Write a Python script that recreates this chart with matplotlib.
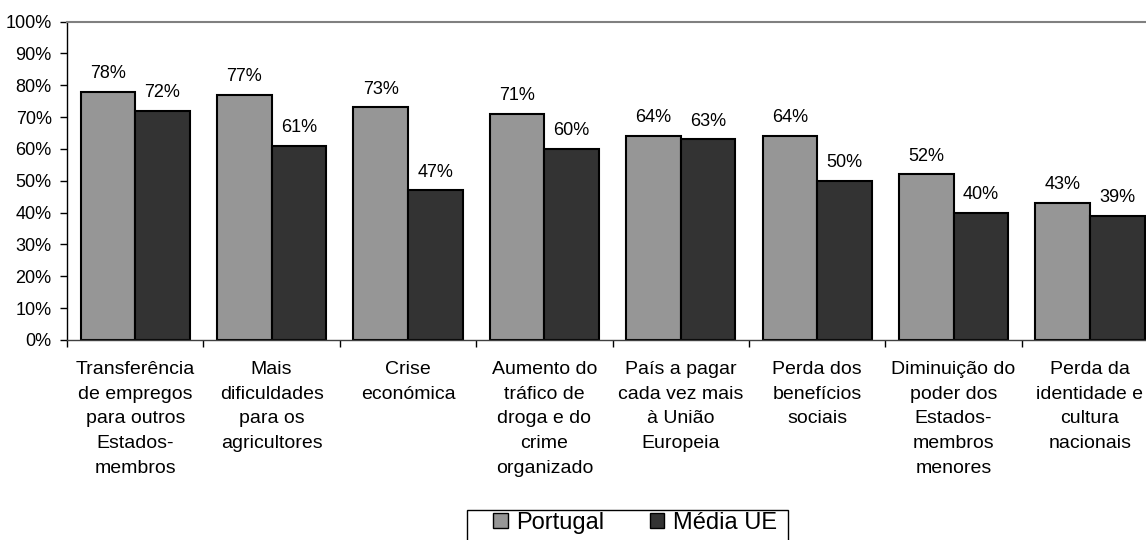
import numpy as np
import matplotlib
matplotlib.use('Agg')
import matplotlib.pyplot as plt
from matplotlib.patches import Patch, Rectangle

plt.rcParams['font.family'] = ['Liberation Sans', 'DejaVu Sans']

# --- dados ---
categorias = [
    "Transferência\nde empregos\npara outros\nEstados-\nmembros",
    "Mais\ndificuldades\npara os\nagricultores",
    "Crise\neconómica",
    "Aumento do\ntráfico de\ndroga e do\ncrime\norganizado",
    "País a pagar\ncada vez mais\nà União\nEuropeia",
    "Perda dos\nbenefícios\nsociais",
    "Diminuição do\npoder dos\nEstados-\nmembros\nmenores",
    "Perda da\nidentidade e\ncultura\nnacionais",
]
portugal = [78, 77, 73, 71, 64, 64, 52, 43]
media_ue = [72, 61, 47, 60, 63, 50, 40, 39]
yticks = [0, 10, 20, 30, 40, 50, 60, 70, 80, 90, 100]
series_nomes = ["Portugal", "Média UE"]
cores = ['#969696', '#333333']

W, H = 1146, 540
fig = plt.figure(figsize=(W / 100, H / 100), dpi=100, facecolor='white')
ax = fig.add_axes([67 / W, 200 / H, (8 * 136.4) / W, 318.5 / H])

x = np.arange(len(categorias)) + 0.5
w = 0.40
b1 = ax.bar(x - w / 2, portugal, w, color=cores[0], edgecolor='black', linewidth=1.5)
b2 = ax.bar(x + w / 2, media_ue, w, color=cores[1], edgecolor='black', linewidth=1.5)

for barras, vals in ((b1, portugal), (b2, media_ue)):
    for r, v in zip(barras, vals):
        ax.annotate(f"{v}%", (r.get_x() + r.get_width() / 2, v),
                    xytext=(0, 7), textcoords='offset points',
                    ha='center', va='bottom', fontsize=13)

ax.set_xlim(0, len(categorias))
ax.set_ylim(0, 100)
ax.set_yticks(yticks)
ax.set_yticklabels([f"{t}%" for t in yticks], fontsize=13)

# ticks do eixo x nas fronteiras das categorias, rótulos ao centro
ax.set_xticks(np.arange(len(categorias) + 1))
ax.set_xticklabels([])
ax.set_xticks(x, minor=True)
ax.set_xticklabels(categorias, minor=True, fontsize=14, linespacing=1.6, va='top')
ax.tick_params(axis='x', which='minor', length=0, pad=15)
ax.tick_params(axis='x', which='major', length=5, width=1, direction='out')
ax.tick_params(axis='y', length=5, width=1, direction='out', pad=6)

ax.spines['right'].set_visible(False)
ax.spines['top'].set_color('#808080')
ax.spines['top'].set_linewidth(1.5)
ax.spines['left'].set_linewidth(1)
ax.spines['bottom'].set_linewidth(1)
ax.spines['bottom'].set_color('#404040')

# legenda (a caixa continua para lá do fundo da imagem, como no original)
handles = [Patch(facecolor=c, edgecolor='black', linewidth=1) for c in cores]
leg = fig.legend(handles, series_nomes, loc='upper left',
                 bbox_to_anchor=(493 / W, 28 / H), ncol=2, fontsize=17,
                 frameon=False, handlelength=0.62, handleheight=0.62,
                 handletextpad=0.38, columnspacing=1.9,
                 borderpad=0, borderaxespad=0)
fig.patches.append(Rectangle((467 / W, -20 / H), (788 - 467) / W, 50 / H,
                             transform=fig.transFigure, fill=False,
                             edgecolor='black', linewidth=1))

fig.savefig('out.png', dpi=100, facecolor='white')
